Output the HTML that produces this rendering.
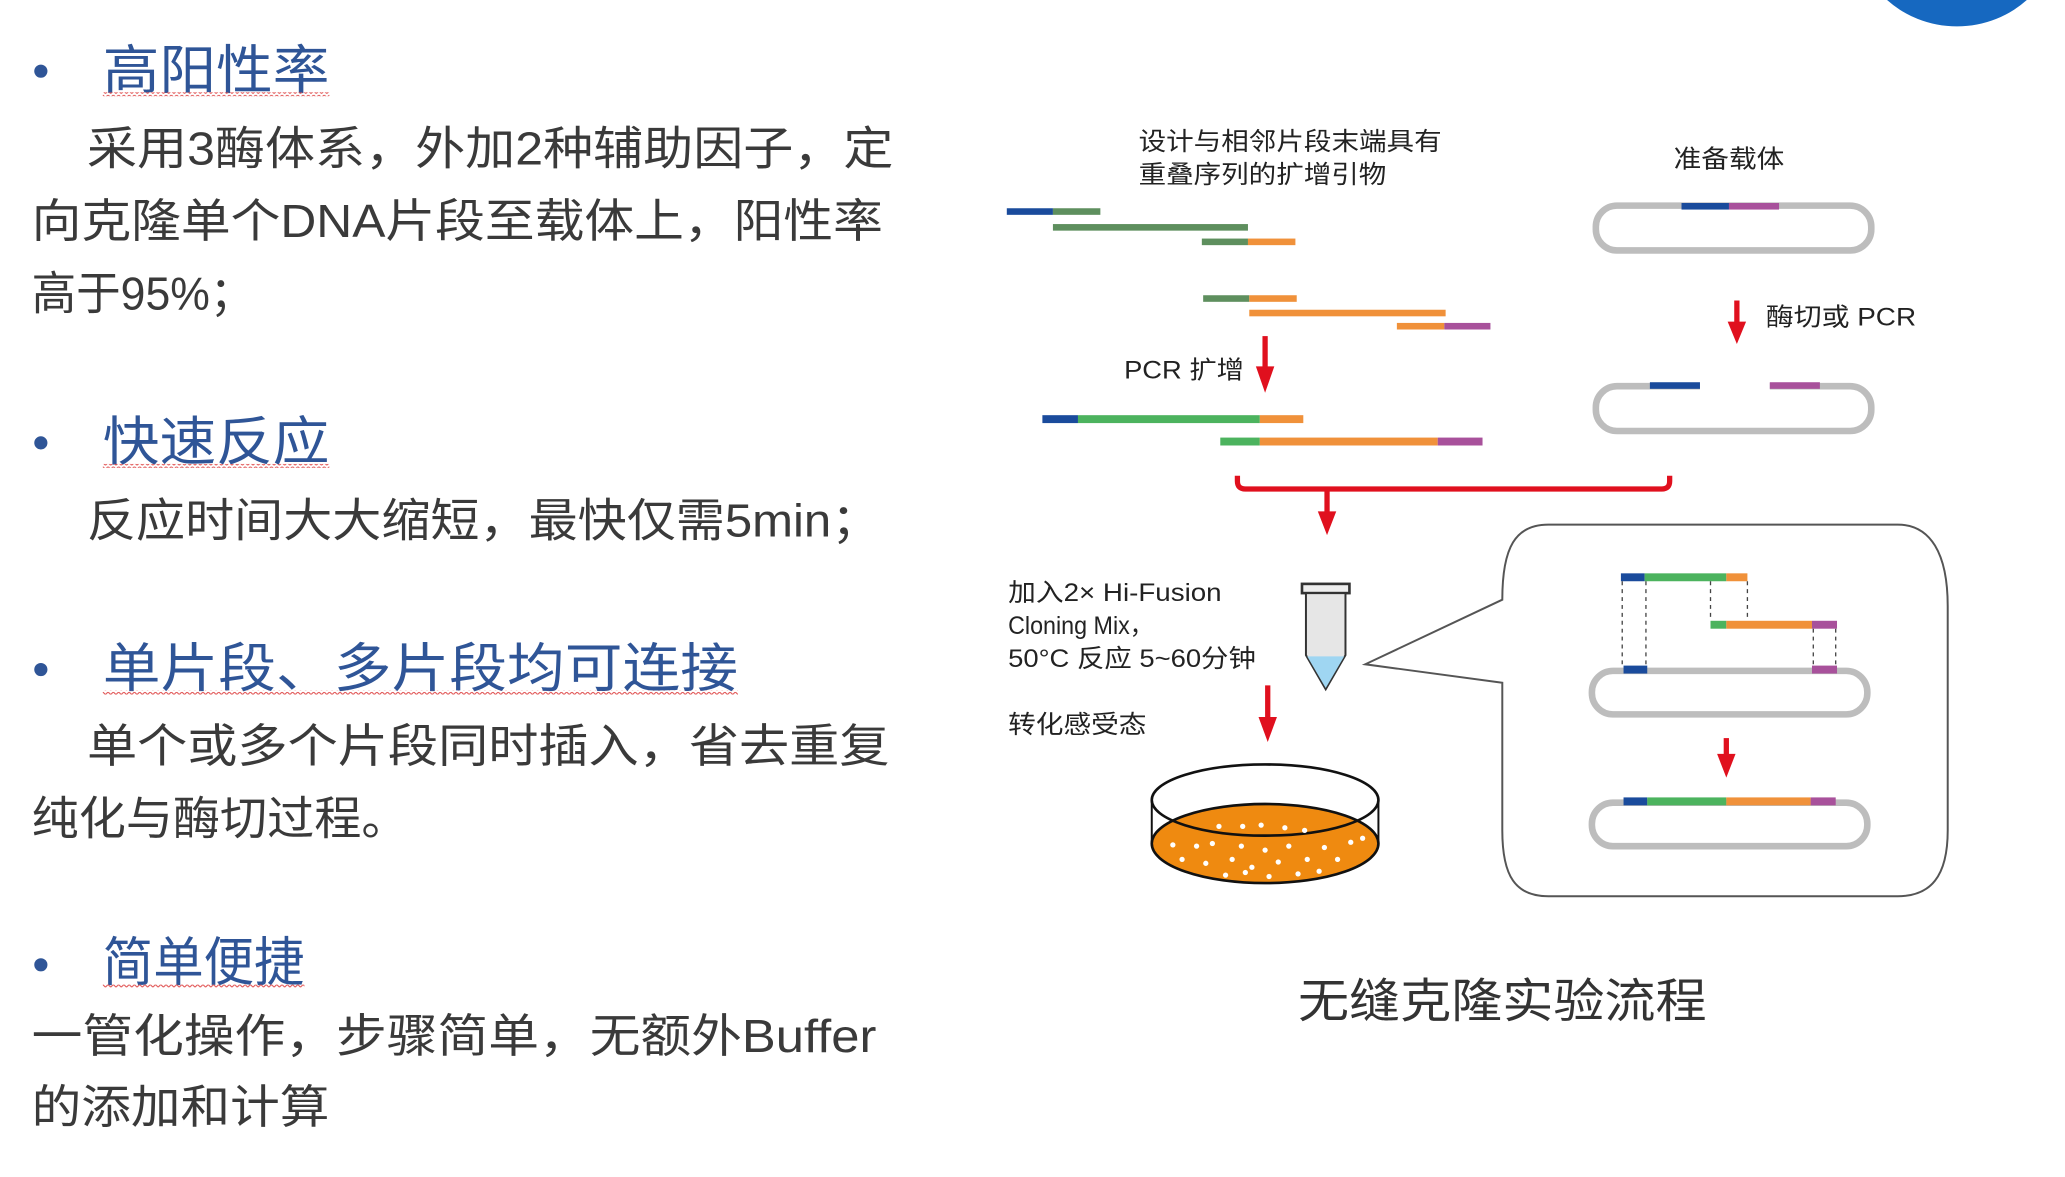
<!DOCTYPE html>
<html><head><meta charset="utf-8"><style>
html,body{margin:0;padding:0;background:#fff;overflow:hidden}
svg{display:block}
text{font-family:"Liberation Sans","Noto Sans CJK SC",sans-serif}
.h{fill:#2f5597;font-size:40px}
.b{fill:#3a3a3a;font-size:35px}
.s{fill:#222;font-size:19px}
</style></head><body>
<svg width="2065" height="1177" viewBox="0 0 1567 893" preserveAspectRatio="none" xmlns="http://www.w3.org/2000/svg">
<defs>
<pattern id="wv" width="4" height="3" patternUnits="userSpaceOnUse"><path d="M0 2 L2 0 L4 2" stroke="#e05050" stroke-width="0.8" fill="none"/></pattern>
</defs>
<ellipse cx="1485" cy="-55" rx="78" ry="75" fill="#1668c0"/>
<g fill="#2f5597"><circle cx="31" cy="54" r="5"/><circle cx="31" cy="336" r="5"/><circle cx="31" cy="508" r="5"/><circle cx="31" cy="732" r="5"/></g>
<text class="h" x="78" y="67" textLength="172" lengthAdjust="spacingAndGlyphs">高阳性率</text>
<rect x="78" y="70" width="172" height="3" fill="url(#wv)"/>
<text class="b" x="66" y="125" textLength="612" lengthAdjust="spacingAndGlyphs">采用3酶体系，外加2种辅助因子，定</text>
<text class="b" x="24" y="180" textLength="646" lengthAdjust="spacingAndGlyphs">向克隆单个DNA片段至载体上，阳性率</text>
<text class="b" x="24" y="235" textLength="169" lengthAdjust="spacingAndGlyphs">高于95%；</text>
<text class="h" x="78" y="349" textLength="172" lengthAdjust="spacingAndGlyphs">快速反应</text>
<rect x="78" y="352" width="172" height="3" fill="url(#wv)"/>
<text class="b" x="66" y="407" textLength="602" lengthAdjust="spacingAndGlyphs">反应时间大大缩短，最快仅需5min；</text>
<text class="h" x="78" y="521" textLength="482" lengthAdjust="spacingAndGlyphs">单片段、多片段均可连接</text>
<rect x="78" y="524" width="482" height="3" fill="url(#wv)"/>
<text class="b" x="66" y="578" textLength="609" lengthAdjust="spacingAndGlyphs">单个或多个片段同时插入，省去重复</text>
<text class="b" x="24" y="633" textLength="286" lengthAdjust="spacingAndGlyphs">纯化与酶切过程。</text>
<text class="h" x="78" y="744" textLength="153" lengthAdjust="spacingAndGlyphs">简单便捷</text>
<rect x="78" y="747" width="153" height="3" fill="url(#wv)"/>
<text class="b" x="24" y="798" textLength="641" lengthAdjust="spacingAndGlyphs">一管化操作，步骤简单，无额外Buffer</text>
<text class="b" x="24" y="852" textLength="226" lengthAdjust="spacingAndGlyphs">的添加和计算</text>

<text class="s" x="864" y="114" textLength="230" lengthAdjust="spacingAndGlyphs">设计与相邻片段末端具有</text>
<text class="s" x="864" y="139" textLength="188" lengthAdjust="spacingAndGlyphs">重叠序列的扩增引物</text>
<text class="s" x="1270" y="127" textLength="84" lengthAdjust="spacingAndGlyphs">准备载体</text>
<text class="s" x="1340" y="247" textLength="114" lengthAdjust="spacingAndGlyphs">酶切或 PCR</text>
<text class="s" x="853" y="287" textLength="91" lengthAdjust="spacingAndGlyphs">PCR 扩增</text>
<text class="s" x="765" y="456" textLength="162" lengthAdjust="spacingAndGlyphs">加入2× Hi-Fusion</text>
<text class="s" x="765" y="481" textLength="110" lengthAdjust="spacingAndGlyphs">Cloning Mix，</text>
<text class="s" x="765" y="506" textLength="188" lengthAdjust="spacingAndGlyphs">50°C 反应 5~60分钟</text>
<text class="s" x="765" y="556" textLength="105" lengthAdjust="spacingAndGlyphs">转化感受态</text>
<text x="985" y="772" style="font-size:36px;fill:#333" textLength="310" lengthAdjust="spacingAndGlyphs">无缝克隆实验流程</text>

<g>
<rect x="764" y="158" width="35" height="5" fill="#1a4b9c"/><rect x="799" y="158" width="36" height="5" fill="#5e8f5e"/>
<rect x="799" y="170" width="148" height="5" fill="#5e8f5e"/>
<rect x="912" y="181" width="35" height="5" fill="#5e8f5e"/><rect x="947" y="181" width="36" height="5" fill="#f0913a"/>
<rect x="913" y="224" width="35" height="5" fill="#5e8f5e"/><rect x="948" y="224" width="36" height="5" fill="#f0913a"/>
<rect x="948" y="235" width="149" height="5" fill="#f0913a"/>
<rect x="1060" y="245" width="36" height="5" fill="#f0913a"/><rect x="1096" y="245" width="35" height="5" fill="#a8519b"/>
<rect x="791" y="315" width="27" height="6" fill="#1a4b9c"/><rect x="818" y="315" width="138" height="6" fill="#4cb35e"/><rect x="956" y="315" width="33" height="6" fill="#f0913a"/>
<rect x="926" y="332" width="30" height="6" fill="#4cb35e"/><rect x="956" y="332" width="135" height="6" fill="#f0913a"/><rect x="1091" y="332" width="34" height="6" fill="#a8519b"/>
</g>
<g fill="#e0101e">
<rect x="958" y="255" width="4" height="28"/><polygon points="953,278 967,278 960,298"/>
<rect x="1316" y="228" width="4" height="20"/><polygon points="1311,244 1325,244 1318,261"/>
<rect x="1005" y="372" width="4" height="20"/><polygon points="1000,388 1014,388 1007,406"/>
<rect x="960" y="520" width="4" height="28"/><polygon points="955,544 969,544 962,563"/>
<rect x="1308" y="560" width="4" height="16"/><polygon points="1303,572 1317,572 1310,590"/>
</g>
<path d="M939 361 v4 q0 6 6 6 h316 q6 0 6 -6 v-4" stroke="#e0101e" stroke-width="4" fill="none"/>
<g fill="none" stroke="#bdbdbd" stroke-width="5">
<rect x="1211" y="156" width="209" height="34" rx="16"/>
<rect x="1211" y="293" width="209" height="34" rx="16"/>
<rect x="1208" y="509" width="209" height="33" rx="16"/>
<rect x="1208" y="609" width="209" height="33" rx="16"/>
</g>
<rect x="1290" y="288" width="53" height="9" fill="#fff"/>
<rect x="1276" y="154" width="36" height="5" fill="#1a4b9c"/><rect x="1312" y="154" width="38" height="5" fill="#a8519b"/>
<rect x="1252" y="290" width="38" height="5" fill="#1a4b9c"/><rect x="1343" y="290" width="38" height="5" fill="#a8519b"/>
<rect x="988" y="443" width="36" height="7" fill="#eee" stroke="#333" stroke-width="2"/>
<path d="M991 450 V497 L1006 523 L1021 497 V450 Z" fill="#e6e6e6" stroke="#333" stroke-width="1.5"/>
<path d="M992 498 L1006 522 L1020 498 Z" fill="#9fd6f2"/>
<ellipse cx="960" cy="640" rx="86" ry="30" fill="#ef8a10" stroke="#111" stroke-width="2"/>
<line x1="874" y1="607" x2="874" y2="640" stroke="#111" stroke-width="1.5"/>
<line x1="1046" y1="607" x2="1046" y2="640" stroke="#111" stroke-width="1.5"/>
<ellipse cx="960" cy="607" rx="86" ry="27" fill="none" stroke="#111" stroke-width="2"/>
<g fill="#fff">
<circle cx="925" cy="627" r="2"/><circle cx="943" cy="627" r="2"/><circle cx="957" cy="626" r="2"/><circle cx="975" cy="628" r="2"/><circle cx="990" cy="630" r="2"/>
<circle cx="890" cy="641" r="2"/><circle cx="908" cy="642" r="2"/><circle cx="920" cy="640" r="2"/><circle cx="942" cy="642" r="2"/><circle cx="960" cy="645" r="2"/><circle cx="978" cy="642" r="2"/><circle cx="1005" cy="643" r="2"/><circle cx="1025" cy="639" r="2"/><circle cx="1034" cy="636" r="2"/>
<circle cx="897" cy="652" r="2"/><circle cx="915" cy="655" r="2"/><circle cx="935" cy="652" r="2"/><circle cx="950" cy="658" r="2"/><circle cx="970" cy="654" r="2"/><circle cx="992" cy="652" r="2"/><circle cx="1015" cy="652" r="2"/>
<circle cx="930" cy="664" r="2"/><circle cx="945" cy="662" r="2"/><circle cx="963" cy="665" r="2"/><circle cx="985" cy="663" r="2"/><circle cx="1001" cy="661" r="2"/>
</g>
<path d="M1140 455 C1140 415 1150 398 1175 398 H1440 C1465 398 1478 420 1478 460 V630 C1478 665 1465 680 1440 680 H1175 C1150 680 1140 665 1140 630 V518 L1036 504 Z" fill="none" stroke="#555" stroke-width="1.5"/>
<rect x="1230" y="435" width="18" height="6" fill="#1a4b9c"/><rect x="1248" y="435" width="62" height="6" fill="#4cb35e"/><rect x="1310" y="435" width="16" height="6" fill="#f0913a"/>
<rect x="1298" y="471" width="12" height="6" fill="#4cb35e"/><rect x="1310" y="471" width="65" height="6" fill="#f0913a"/><rect x="1375" y="471" width="19" height="6" fill="#a8519b"/>
<rect x="1232" y="505" width="18" height="6" fill="#1a4b9c"/><rect x="1375" y="505" width="19" height="6" fill="#a8519b"/>
<g stroke="#444" stroke-width="1" stroke-dasharray="3,3">
<line x1="1231" y1="441" x2="1231" y2="505"/><line x1="1249" y1="441" x2="1249" y2="505"/>
<line x1="1298" y1="441" x2="1298" y2="471"/><line x1="1326" y1="441" x2="1326" y2="471"/>
<line x1="1376" y1="477" x2="1376" y2="505"/><line x1="1393" y1="477" x2="1393" y2="505"/>
</g>
<rect x="1232" y="605" width="18" height="6" fill="#1a4b9c"/><rect x="1250" y="605" width="60" height="6" fill="#4cb35e"/><rect x="1310" y="605" width="64" height="6" fill="#f0913a"/><rect x="1374" y="605" width="19" height="6" fill="#a8519b"/>
</svg>
</body></html>
